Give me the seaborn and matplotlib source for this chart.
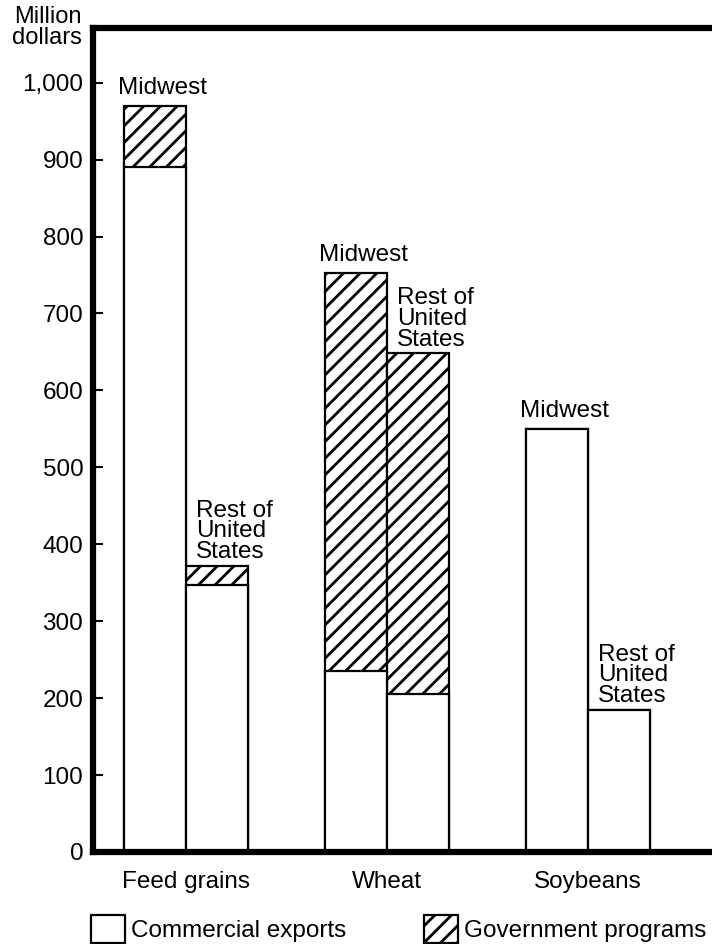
import pandas as pd
import matplotlib
matplotlib.use("Agg")
import matplotlib.pyplot as plt
import seaborn as sns
from matplotlib.patches import Patch

# Du lieu doc tu hinh (trieu do la)
crops = ["Feed grains", "Wheat", "Soybeans"]
region_names = ["Midwest", "Rest of United States"]
region_labels = ["Midwest", "Rest of\nUnited\nStates"]
commercial_midwest = [890, 235, 550]
commercial_rest = [347, 205, 185]
government_midwest = [80, 518, 0]
government_rest = [25, 443, 0]

ytick_values = [0, 100, 200, 300, 400, 500, 600, 700, 800, 900, 1000]
ytick_labels = ["0", "100", "200", "300", "400", "500", "600", "700", "800", "900", "1,000"]
legend_labels = ["Commercial exports", "Government programs"]

# Cau hinh giao dien
sns.set_theme(style="white")
plt.rcParams["font.family"] = ["Liberation Sans", "DejaVu Sans"]
plt.rcParams["text.color"] = "black"
plt.rcParams["hatch.linewidth"] = 2.0
plt.rcParams["hatch.color"] = "black"


def build_frame():
	df = pd.DataFrame({
		"crop": crops * 2,
		"region": [region_names[0]] * 3 + [region_names[1]] * 3,
		"commercial": commercial_midwest + commercial_rest,
		"government": government_midwest + government_rest,
	})
	df["total"] = df["commercial"] + df["government"]
	return df


def draw(df):
	fig = plt.figure(figsize=(7.12, 9.44), dpi=100)
	ax = fig.add_axes([93 / 712, 92 / 944, 1 - 93 / 712, 824 / 944])

	common = dict(data=df, x="crop", hue="region", order=crops, hue_order=region_names,
				  width=0.62, palette=["white", "white"], saturation=1,
				  edgecolor="black", linewidth=1.6, legend=False, ax=ax)

	# phan gach cheo = tong (thuong mai + chinh phu), ve truoc
	sns.barplot(y="total", hatch="//", **common)
	total_bars = list(ax.containers[:2])
	# phan trang = xuat khau thuong mai, ve de len
	sns.barplot(y="commercial", **common)

	# nhan vung phia tren moi cot
	for i, container in enumerate(total_bars):
		for bar in container:
			x0 = bar.get_x()
			h = bar.get_height()
			if i == 0:
				ax.annotate(region_labels[i], (x0, h), xytext=(-4, 5), textcoords="offset points",
							ha="left", va="bottom", fontsize=17.5)
			else:
				ax.annotate(region_labels[i], (x0, h), xytext=(7, 2), textcoords="offset points",
							ha="left", va="bottom", fontsize=17.5, linespacing=0.92)

	ax.set_xlim(-0.463, 2.617)
	ax.set_ylim(0, 1071)
	ax.set_yticks(ytick_values, ytick_labels)
	ax.set_xlabel("")
	ax.set_ylabel("")
	ax.tick_params(axis="y", left=True, direction="in", length=7, width=1.5,
				   color="black", pad=7, labelsize=17.5, labelcolor="black")
	ax.tick_params(axis="x", bottom=False, length=0, pad=14, labelsize=17.5, labelcolor="black")

	for side in ["left", "bottom", "top"]:
		ax.spines[side].set_linewidth(4.5)
		ax.spines[side].set_color("black")
	ax.spines["right"].set_visible(False)

	fig.text(82 / 712, 1 - 6 / 944, "Million\ndollars", ha="right", va="top",
			 fontsize=17, linespacing=0.92)

	handles = [Patch(facecolor="white", edgecolor="black", linewidth=1.6),
			   Patch(facecolor="white", edgecolor="black", linewidth=1.6, hatch="//")]
	fig.legend(handles, legend_labels, loc="lower left", bbox_to_anchor=(91 / 712, 1 / 944),
			   ncol=2, frameon=False, fontsize=17.5, handlelength=1.4, handleheight=1.4,
			   handletextpad=0.25, columnspacing=3.2, borderpad=0, borderaxespad=0)

	fig.savefig("out.png", dpi=100)


if __name__ == "__main__":
	draw(build_frame())
